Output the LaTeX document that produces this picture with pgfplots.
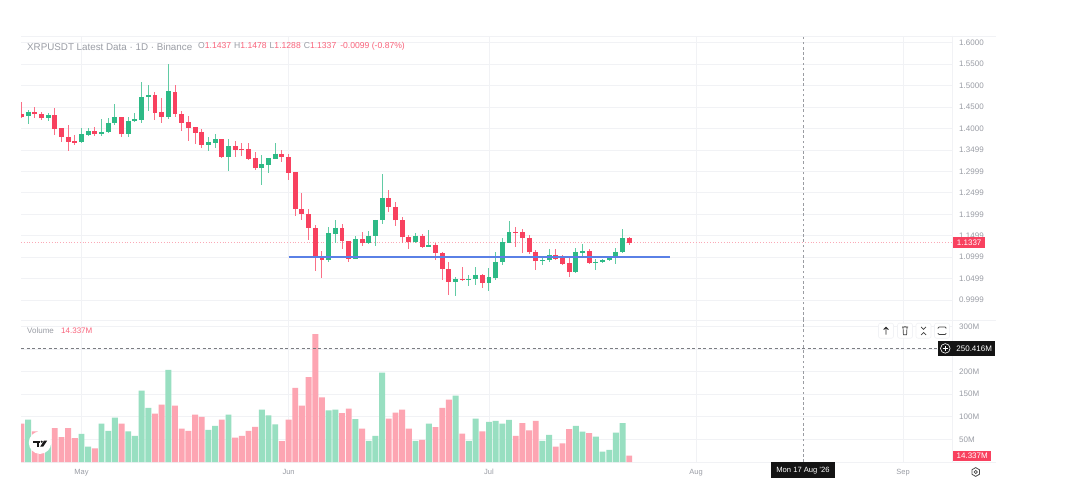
\documentclass[border=0pt]{standalone}
\usepackage{fontspec}
\setmainfont{Liberation Sans}
\usepackage{pgfplots}
\usepackage{pgfplotstable}
\pgfplotsset{compat=1.18}
\definecolor{upc}{HTML}{2DBA86}
\definecolor{dnc}{HTML}{F8415F}
\definecolor{upv}{HTML}{98DFC1}
\definecolor{dnv}{HTML}{FDA5B2}
\definecolor{gridc}{HTML}{F1F2F5}
\definecolor{txt}{HTML}{9A9DA5}
\definecolor{hdr}{HTML}{F9637B}
\definecolor{bluel}{HTML}{5A80E6}
\definecolor{dot}{HTML}{FBA9B6}
\definecolor{cross}{HTML}{9A9CA2}
\pgfplotstableread{
d o h l c
-8 1.4289 1.4429 1.4103 1.4390
-5 1.4235 1.4352 1.4181 1.4313
0 1.3676 1.4002 1.3652 1.3862
1 1.3846 1.4002 1.3831 1.3940
3 1.3870 1.4219 1.3823 1.3916
4 1.3916 1.4235 1.3901 1.4134
5 1.4126 1.4569 1.4080 1.4258
7 1.3862 1.4274 1.3792 1.4181
8 1.4173 1.4352 1.4157 1.4212
9 1.4196 1.5082 1.4126 1.4732
10 1.4732 1.5012 1.4406 1.4779
13 1.4266 1.5501 1.4227 1.4864
19 1.3613 1.3808 1.3473 1.3676
20 1.3660 1.3870 1.3536 1.3753
22 1.3334 1.3753 1.3007 1.3590
27 1.3069 1.3380 1.2681 1.3170
28 1.3147 1.3318 1.2968 1.3303
29 1.3295 1.3652 1.3279 1.3411
37 1.0933 1.1710 1.0894 1.1554
38 1.1547 1.1865 1.1321 1.1686
41 1.0964 1.1492 1.0964 1.1422
43 1.1321 1.1609 1.1306 1.1500
44 1.1492 1.1865 1.1267 1.1865
45 1.1857 1.2930 1.1780 1.2378
50 1.1345 1.1554 1.1321 1.1500
52 1.1243 1.1632 1.1228 1.1290
56 1.0428 1.0544 1.0094 1.0490
58 1.0474 1.0583 1.0327 1.0490
59 1.0490 1.0762 1.0350 1.0583
61 1.0404 1.0738 1.0218 1.0528
62 1.0521 1.1119 1.0466 1.0886
63 1.0878 1.1453 1.0816 1.1344
64 1.1336 1.1841 1.1321 1.1585
69 1.0901 1.1026 1.0816 1.0932
70 1.0925 1.1181 1.0894 1.1041
74 1.0660 1.1204 1.0637 1.1119
75 1.1103 1.1305 1.1026 1.1142
77 1.0862 1.0948 1.0699 1.0886
78 1.0886 1.0948 1.0855 1.0932
79 1.0932 1.1026 1.0901 1.0995
80 1.0987 1.1204 1.0839 1.1119
81 1.1111 1.1655 1.1103 1.1445
}\upcandles
\pgfplotstableread{
d o h l c
-9 1.4336 1.4623 1.4258 1.4274
-7 1.4390 1.4507 1.4250 1.4344
-6 1.4336 1.4375 1.4196 1.4235
-4 1.4313 1.4468 1.3839 1.3994
-3 1.4010 1.4010 1.3691 1.3800
-2 1.3808 1.4072 1.3473 1.3691
-1 1.3707 1.3846 1.3613 1.3660
2 1.3940 1.4041 1.3823 1.3870
6 1.4258 1.4258 1.3808 1.3862
11 1.4787 1.4841 1.4196 1.4367
12 1.4383 1.4701 1.4126 1.4266
14 1.4849 1.5012 1.4274 1.4336
15 1.4336 1.4406 1.3947 1.4134
16 1.4150 1.4289 1.3714 1.4010
17 1.4025 1.4041 1.3637 1.3893
18 1.3916 1.3979 1.3551 1.3613
21 1.3753 1.3753 1.3310 1.3334
23 1.3590 1.3707 1.3326 1.3497
24 1.3520 1.3668 1.3357 1.3497
25 1.3512 1.3652 1.3264 1.3287
26 1.3303 1.3442 1.3031 1.3070
30 1.3411 1.3497 1.3225 1.3334
31 1.3334 1.3403 1.2798 1.2968
32 1.2976 1.2976 1.1958 1.2122
33 1.2122 1.2487 1.1865 1.2005
34 1.2005 1.2114 1.1399 1.1686
35 1.1686 1.1749 1.0684 1.0979
36 1.0995 1.1143 1.0505 1.0933
39 1.1686 1.1764 1.1189 1.1376
40 1.1376 1.1376 1.0894 1.0964
42 1.1430 1.1578 1.1267 1.1321
46 1.2378 1.2557 1.2052 1.2168
47 1.2168 1.2285 1.1725 1.1857
48 1.1857 1.1927 1.1321 1.1461
49 1.1461 1.1515 1.1189 1.1345
51 1.1500 1.1539 1.1228 1.1243
53 1.1290 1.1321 1.0933 1.1104
54 1.1104 1.1127 1.0466 1.0731
55 1.0731 1.0894 1.0117 1.0428
57 1.0490 1.0762 1.0443 1.0466
60 1.0575 1.0606 1.0280 1.0404
65 1.1585 1.1694 1.1243 1.1562
66 1.1585 1.1647 1.1103 1.1445
67 1.1453 1.1515 1.1072 1.1111
68 1.1119 1.1166 1.0699 1.0901
71 1.1041 1.1181 1.0932 1.0963
72 1.0979 1.1041 1.0816 1.0847
73 1.0855 1.1026 1.0544 1.0660
76 1.1134 1.1181 1.0847 1.0862
82 1.1437 1.1478 1.1288 1.1337
}\dncandles
\pgfplotstableread{
d v
-8 94
-5 40
0 62
1 34
3 85
4 69
5 98
7 68
8 58
9 158
10 120
13 204
19 71
20 80
22 105
27 116
28 103
29 83
37 114
38 116
41 95
43 47
44 58
45 198
50 47
52 85
56 147
58 47
59 96
61 89
62 91
63 85
64 93
69 47
70 60
74 80
75 67
77 56
78 23
79 27
80 65
81 86
}\upvol
\pgfplotstableread{
d v
-9 85
-7 68
-6 50
-4 75
-3 55
-2 75
-1 53
2 30
6 85
11 107
12 127
14 125
15 74
16 69
17 105
18 100
21 94
23 54
24 58
25 69
26 78
30 46
31 94
32 164
33 125
34 188
35 283
36 143
39 108
40 118
42 74
46 96
47 109
48 116
49 74
51 49
53 77
54 120
55 138
57 63
60 68
65 58
66 86
67 70
68 91
71 34
72 41
73 73
76 64
82 14.337
}\dnvol
\pgfplotsset{
  panel/.style={
    scale only axis, width=931.5pt,
    xmin=-9.057, xmax=130.39,
    axis line style={draw=none},
    major tick length=0pt,
    xtick={0,31,61,92,123},
    grid=both, grid style={gridc, line width=0.7pt},
    yticklabel pos=right,
    yticklabel style={font=\fontsize{8}{9}\selectfont, text=txt, xshift=3.2pt},
    xticklabel style={font=\fontsize{7.5}{9}\selectfont, text=txt},
  },
  wick/.style={draw=none, mark=none, forget plot,
    error bars/.cd, y dir=both, y explicit, error mark=none,
    error bar style={#1, line width=1pt}},
  body/.style={draw=none, mark=none, forget plot,
    error bars/.cd, y dir=both, y explicit, error mark=none,
    error bar style={#1, line width=4.9pt}},
}
\begin{document}
\begin{tikzpicture}
\useasboundingbox (0pt,0pt) rectangle (1087pt,480pt);
\fill[white] (0pt,0pt) rectangle (1087pt,480pt);
% frame lines of the panes
\draw[gridc,line width=0.8pt] (21pt,444pt) -- (996pt,444pt);
\draw[gridc,line width=0.8pt] (21pt,160pt) -- (996pt,160pt);
\draw[gridc,line width=0.8pt] (21pt,18pt) -- (996pt,18pt);
\draw[gridc,line width=0.8pt] (952.5pt,444pt) -- (952.5pt,18pt);
% price pane
\begin{axis}[panel, at={(21pt,160pt)}, anchor=south west, height=284pt,
  ymin=0.9534, ymax=1.6154,
  ytick={0.9999,1.0499,1.0999,1.1499,1.1999,1.2499,1.2999,1.3499,1.4,1.45,1.5,1.55,1.6},
  yticklabels={0.9999,1.0499,1.0999,1.1499,1.1999,1.2499,1.2999,1.3499,1.4000,1.4500,1.5000,1.5500,1.6000},
  xticklabels={}]
\addplot[dot, dotted, line width=0.8pt, forget plot] coordinates {(-9.057,1.1337)(130.39,1.1337)};
\addplot[cross, dash pattern=on 2.6pt off 2.6pt, line width=0.7pt, forget plot] coordinates {(108,0.9534)(108,1.6154)};
\addplot[wick={upc!75}] table[x=d, y=c, y error plus expr=\thisrow{h}-\thisrow{c}, y error minus expr=\thisrow{c}-\thisrow{l}] {\upcandles};
\addplot[wick={dnc!75}] table[x=d, y=c, y error plus expr=\thisrow{h}-\thisrow{c}, y error minus expr=\thisrow{c}-\thisrow{l}] {\dncandles};
\addplot[body={upc}] table[x=d, y=c, y error plus expr=0, y error minus expr=\thisrow{c}-\thisrow{o}] {\upcandles};
\addplot[body={dnc}] table[x=d, y=c, y error plus expr=\thisrow{o}-\thisrow{c}, y error minus expr=0] {\dncandles};
\addplot[bluel, line width=1.3pt, forget plot] coordinates {(31,1.1000)(88.1,1.1000)};
\end{axis}
% volume pane
\begin{axis}[panel, at={(21pt,18pt)}, anchor=south west, height=142pt,
  ymin=0, ymax=314.2,
  ytick={50,100,150,200,250,300},
  yticklabels={50M,100M,150M,200M,,300M},
  xticklabels={May,Jun,Jul,Aug,Sep},
  xticklabel style={yshift=-3.5pt}]
\addplot[ybar, bar shift=0pt, bar width=5.9pt, fill=upv, draw=none, forget plot] table[x=d,y=v] {\upvol};
\addplot[ybar, bar shift=0pt, bar width=5.9pt, fill=dnv, draw=none, forget plot] table[x=d,y=v] {\dnvol};
\addplot[cross, dash pattern=on 2.6pt off 2.6pt, line width=0.7pt, forget plot] coordinates {(108,0)(108,314.2)};
\addplot[cross!80!black, dash pattern=on 3pt off 2.5pt, line width=0.7pt, forget plot] coordinates {(-9.057,250.416)(128.2,250.416)};
\end{axis}
% header
\node[anchor=west,inner sep=0pt,font=\fontsize{9.8}{11}\selectfont,text=txt] at (27pt,433.5pt) {XRPUSDT Latest Data · 1D · Binance};
\node[anchor=west,inner sep=0pt,font=\fontsize{8.6}{10}\selectfont] at (198pt,433.5pt)
 {\textcolor{txt}{O}\textcolor{hdr}{1.1437}\hspace{3pt}\textcolor{txt}{H}\textcolor{hdr}{1.1478}\hspace{3pt}\textcolor{txt}{L}\textcolor{hdr}{1.1288}\hspace{3pt}\textcolor{txt}{C}\textcolor{hdr}{1.1337}\hspace{4pt}\textcolor{hdr}{-0.0099 (-0.87\%)}};
\node[anchor=west,inner sep=0pt,font=\fontsize{8}{10}\selectfont,text=txt] at (27pt,149pt) {Volume};
\node[anchor=west,inner sep=0pt,font=\fontsize{8}{10}\selectfont,text=hdr] at (61pt,149pt) {14.337M};
% value labels
\node[anchor=west,fill=dnc,text=white,inner sep=0pt,minimum width=32pt,minimum height=11pt,font=\fontsize{8}{9}\selectfont] at (953pt,237.5pt) {1.1337};
\node[anchor=west,fill=black!92,text=white,inner sep=0pt,minimum width=42pt,minimum height=14.5pt,font=\fontsize{8}{9}\selectfont] at (953pt,131.6pt) {250.416M};
\fill[black!92] (938pt,124.4pt) rectangle (953pt,138.9pt);
\draw[white,line width=0.6pt] (945.3pt,131.6pt) circle (4.8pt);
\draw[white,line width=0.6pt] (942.5pt,131.6pt) -- (948.1pt,131.6pt) (945.3pt,128.8pt) -- (945.3pt,134.4pt);
\node[anchor=west,fill=dnc,text=white,inner sep=0pt,minimum width=38pt,minimum height=10.5pt,font=\fontsize{8}{9}\selectfont] at (953pt,24.2pt) {14.337M};
\node[anchor=center,fill=black!92,text=white,inner sep=0pt,minimum width=64pt,minimum height=15.5pt,font=\fontsize{7.6}{9}\selectfont] at (803pt,9.8pt) {Mon 17 Aug '26};
% gear
\draw[black!70,line width=0.7pt] (975.7pt,8pt) circle (1.6pt);
\draw[black!70,line width=0.8pt] (975.7pt,8pt) +(30:4.4pt) -- +(90:4.4pt) -- +(150:4.4pt) -- +(210:4.4pt) -- +(270:4.4pt) -- +(330:4.4pt) -- cycle;
% pane buttons
\foreach \cx in {886,905,923.5,942}
  \draw[gridc,fill=white,rounded corners=2pt,line width=0.6pt] (\cx pt-7.5pt,141.8pt) rectangle (\cx pt+7.5pt,156.8pt);
\draw[black!85,line width=0.8pt] (886pt,145.5pt) -- (886pt,152.8pt) (883.6pt,150.4pt) -- (886pt,152.8pt) -- (888.4pt,150.4pt);
\draw[black!75,line width=0.7pt] (902pt,153pt) -- (908pt,153pt) (903pt,153pt) -- (903.4pt,145.2pt) -- (906.6pt,145.2pt) -- (907pt,153pt) (904pt,153.4pt) -- (906pt,153.4pt);
\draw[black!75,line width=0.7pt] (921pt,153.2pt) -- (923.5pt,150.7pt) -- (926pt,153.2pt) (921pt,145pt) -- (923.5pt,147.5pt) -- (926pt,145pt);
\draw[black!75,line width=0.7pt,rounded corners=1pt] (938pt,147pt) -- (938pt,145.5pt) -- (946pt,145.5pt) -- (946pt,147pt) (938pt,151.5pt) -- (938pt,153pt) -- (946pt,153pt) -- (946pt,151.5pt);
% logo
\fill[white] (40pt,37.3pt) circle (11.2pt);
\fill[black!90] (33pt,39.4pt) rectangle (40.2pt,37.2pt);
\fill[black!90] (36.6pt,37.5pt) rectangle (39pt,33.4pt);
\fill[black!90] (41.7pt,38.3pt) circle (1.2pt);
\fill[black!90] (44pt,39.4pt) -- (47.2pt,39.4pt) -- (43.2pt,33.4pt) -- (40.2pt,33.4pt) -- cycle;
\end{tikzpicture}
\end{document}
